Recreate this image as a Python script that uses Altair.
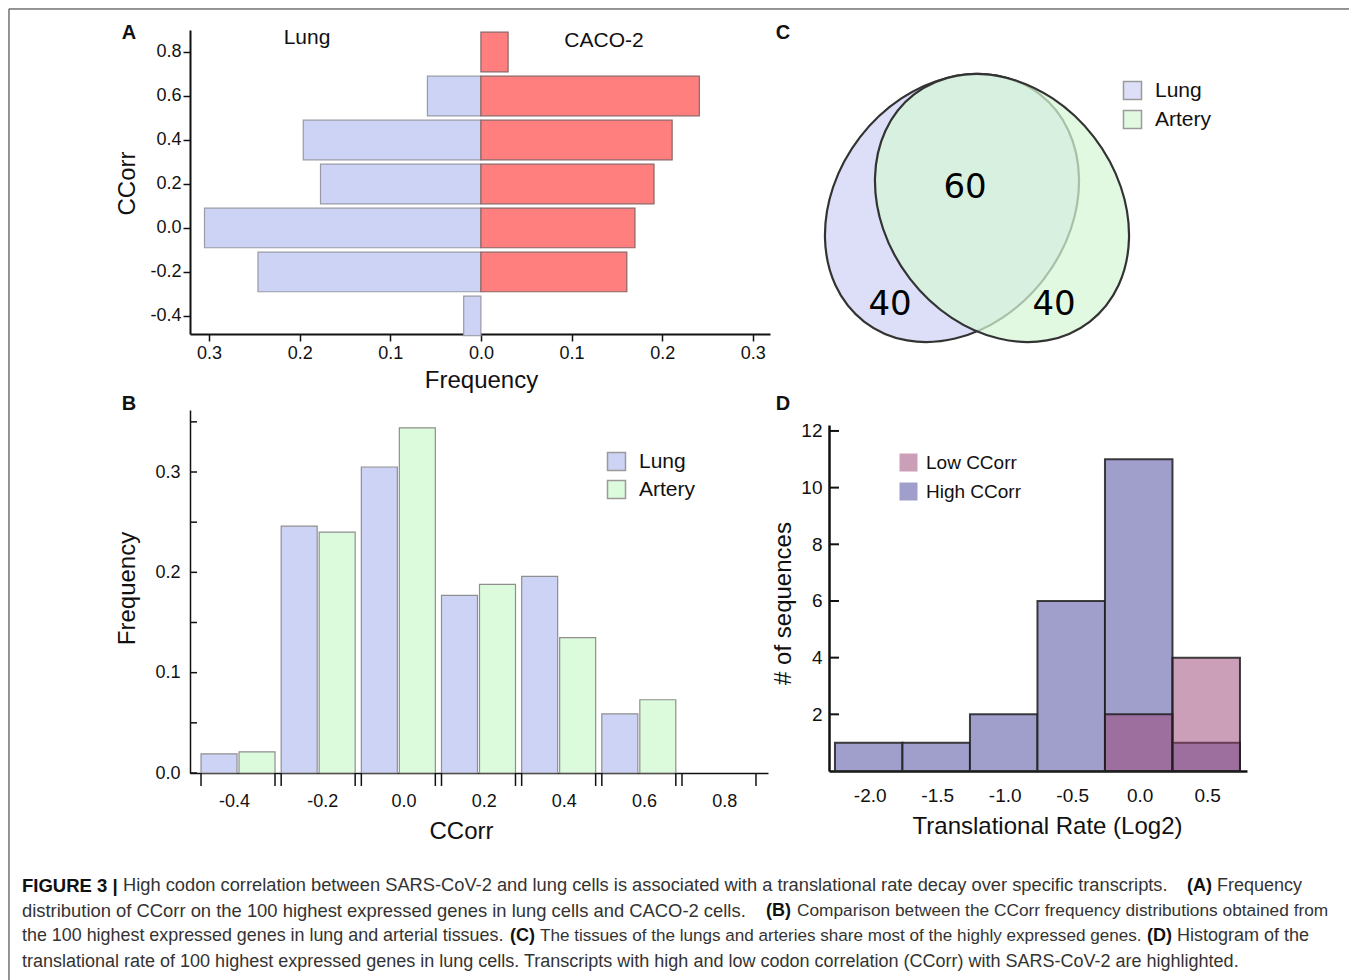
import altair as alt
import pandas as pd

# ---------------- data ----------------
ccorr_bins = [-0.4, -0.2, 0.0, 0.2, 0.4, 0.6, 0.8]
lung_freq = [0.019, 0.246, 0.305, 0.177, 0.196, 0.059, 0.0]
caco2_freq = [0.0, 0.161, 0.170, 0.191, 0.211, 0.241, 0.030]
artery_freq = [0.021, 0.240, 0.344, 0.188, 0.135, 0.073, 0.0]

freq_ticks_A = [-0.3, -0.2, -0.1, 0.0, 0.1, 0.2, 0.3]
freq_ticks_B = [0.0, 0.05, 0.10, 0.15, 0.20, 0.25, 0.30, 0.35]
freq_labels_B = [0.0, 0.1, 0.2, 0.3]
ccorr_label_pos_B = [-0.41, -0.19, 0.013, 0.213, 0.413, 0.613, 0.813]

venn_sets = ["Lung", "Artery"]
venn_counts = [40, 60, 40]  # lung only, shared, artery only

rate_bins = [-2.0, -1.5, -1.0, -0.5, 0.0, 0.5]
high_counts = [1, 1, 2, 6, 11, 1]
low_counts = [0, 0, 0, 0, 2, 4]
count_ticks = [2, 4, 6, 8, 10, 12]

# (x, y, text, weight, font size)
caption = [
    (22, 886, "FIGURE 3 |", "bold", 18.5),
    (123, 886, "High codon correlation between SARS-CoV-2 and lung cells is associated with a translational rate decay over specific transcripts.", "normal", 18.3),
    (1187, 886, "(A)", "bold", 18),
    (1217, 886, "Frequency", "normal", 18),
    (22, 911, "distribution of CCorr on the 100 highest expressed genes in lung cells and CACO-2 cells.", "normal", 18.4),
    (766, 911, "(B)", "bold", 18),
    (797, 911, "Comparison between the CCorr frequency distributions obtained from", "normal", 17.3),
    (22, 936, "the 100 highest expressed genes in lung and arterial tissues.", "normal", 17.9),
    (510, 936, "(C)", "bold", 18),
    (540, 936, "The tissues of the lungs and arteries share most of the highly expressed genes.", "normal", 17.1),
    (1147, 936, "(D)", "bold", 18),
    (1177, 936, "Histogram of the", "normal", 18),
    (22, 962, "translational rate of 100 highest expressed genes in lung cells. Transcripts with high and low codon correlation (CCorr) with SARS-CoV-2 are highlighted.", "normal", 18),
]

# ---------------- layout helpers ----------------
W, H = 1341, 972
def px(x):
    return x - 8
def py(y):
    return y - 8

FONT = "Liberation Sans"
INK = "#111111"
MINUS = "replace(format(datum.value, '.1f'), '\u2212', '-')"
MINUS_ROUND = "replace(format(round(datum.value * 10) / 10, '.1f'), '\u2212', '-')"


def ax(**kw):
    base = dict(grid=False, labelFont=FONT, labelColor=INK, titleFont=FONT,
                titleColor=INK, titleFontWeight="normal", domainColor=INK,
                tickColor=INK, titleBaseline="middle", titleAlign="center")
    base.update(kw)
    return alt.Axis(**base)


def label(text, x, y, size, weight="normal", align="center", color=INK, font=FONT):
    return alt.Chart(alt.Data(values=[{"t": text}])).mark_text(
        align=align, baseline="middle", fontSize=size, fontWeight=weight,
        font=font, color=color
    ).encode(x=alt.value(px(x)), y=alt.value(py(y)), text="t:N")


layers = []

# ---------------- border ----------------
blank = alt.Chart(alt.Data(values=[{}])).mark_rule(color="#777777", strokeWidth=1.5)
layers.append(blank.encode(x=alt.value(1), y=alt.value(1), y2=alt.value(H)))
layers.append(blank.encode(x=alt.value(1), x2=alt.value(px(1350)), y=alt.value(1)))
layers.append(blank.encode(x=alt.value(px(1350)), y=alt.value(1), y2=alt.value(H)))

# ---------------- Panel A ----------------
dfA = pd.DataFrame({
    "ccorr": ccorr_bins * 2,
    "series": ["Lung"] * len(ccorr_bins) + ["CACO-2"] * len(ccorr_bins),
    "freq": lung_freq + caco2_freq,
})
xA = alt.Scale(domain=[-0.321, 0.319], range=[px(190), px(770)], nice=False, zero=False)
yA = alt.Scale(domain=[-0.482, 0.9], range=[py(334), py(30)], nice=False, zero=False)
baseA = alt.Chart(dfA).transform_filter("datum.freq > 0").transform_calculate(
    xs="datum.series == 'Lung' ? -datum.freq : datum.freq",
    ylo="datum.ccorr - 0.09",
    yhi="datum.ccorr + 0.09",
)
axAx = ax(orient="bottom", offset=py(334) - H, values=freq_ticks_A,
          labelExpr="format(abs(datum.value), '.1f')", tickSize=7, tickWidth=1.5,
          domainWidth=2, labelFontSize=18, labelPadding=3, title="Frequency",
          titleFontSize=24, titleX=px(481), titleY=46)
axAy = ax(orient="left", offset=-px(190), values=ccorr_bins,
          labelExpr=MINUS, tickSize=7, tickWidth=1.5, domainWidth=2,
          labelFontSize=18, labelPadding=2, title="CCorr", titleFontSize=24,
          titleAngle=270, titleX=127 - 190, titleY=py(183))
layers.append(baseA.transform_filter("datum.series == 'Lung'").mark_bar(
    fill="#cdd3f4", stroke="#9a9aa6", strokeWidth=1.2).encode(
    x=alt.X("xs:Q", scale=xA, axis=axAx), x2=alt.datum(0),
    y=alt.Y("ylo:Q", scale=yA, axis=axAy), y2="yhi:Q"))
layers.append(baseA.transform_filter("datum.series == 'CACO-2'").mark_bar(
    fill="#ff7f7f", stroke="#8c6464", strokeWidth=1.2).encode(
    x=alt.X("xs:Q", scale=xA, axis=None), x2=alt.datum(0),
    y=alt.Y("ylo:Q", scale=yA, axis=None), y2="yhi:Q"))
layers.append(label("Lung", 307, 38, 21))
layers.append(label("CACO-2", 604, 41, 21))
layers.append(label("A", 129, 33, 20, "bold"))

# ---------------- Panel B ----------------
dfB = pd.DataFrame({
    "ccorr": ccorr_bins * 2,
    "series": ["Lung"] * len(ccorr_bins) + ["Artery"] * len(ccorr_bins),
    "freq": lung_freq + artery_freq,
})
xB = alt.Scale(domain=[-0.5198, 0.9223], range=[px(190), px(768)], nice=False, zero=False)
yB = alt.Scale(domain=[0, 0.3618], range=[py(773), py(410)], nice=False, zero=False)
axBx = ax(orient="bottom", offset=py(773) - H, values=ccorr_label_pos_B,
          labelExpr=MINUS_ROUND, ticks=False, domainWidth=1.5, labelFontSize=18,
          labelPadding=19, title="CCorr", titleFontSize=24, titleX=px(461), titleY=58)
axBy = ax(orient="left", offset=-px(190), values=freq_labels_B, labelExpr=MINUS,
          ticks=False, domainWidth=1.5, labelFontSize=18, labelPadding=10,
          title="Frequency", titleFontSize=24, titleAngle=270,
          titleX=127 - 190, titleY=py(588))
legB = alt.Legend(orient="none", legendX=px(606), legendY=py(451), title=None,
                  symbolType="square", symbolSize=324, symbolStrokeColor="#9a9a9a",
                  symbolStrokeWidth=1.5, labelFont=FONT, labelFontSize=21,
                  labelColor=INK, labelOffset=12, rowPadding=3, padding=0)
layers.append(alt.Chart(dfB).transform_filter("datum.freq > 0").transform_calculate(
    lo="datum.series == 'Lung' ? datum.ccorr - 0.0923 : datum.ccorr + 0.0025",
    hi="datum.series == 'Lung' ? datum.ccorr - 0.0025 : datum.ccorr + 0.0923",
).mark_bar(stroke="#8f8f8f", strokeWidth=1.2).encode(
    x=alt.X("lo:Q", scale=xB, axis=axBx), x2="hi:Q",
    y=alt.Y("freq:Q", scale=yB, axis=axBy), y2=alt.datum(0),
    color=alt.Color("series:N", scale=alt.Scale(domain=["Lung", "Artery"],
                    range=["#cdd3f4", "#dcfadc"]), legend=legB)))
# edge ticks on x
layers.append(alt.Chart(pd.DataFrame({"ccorr": ccorr_bins})).transform_calculate(
    e1="datum.ccorr - 0.0923", e2="datum.ccorr + 0.0923").transform_fold(
    ["e1", "e2"], as_=["k", "edge"]).mark_rule(color=INK, strokeWidth=1.5).encode(
    x=alt.X("edge:Q", scale=xB, axis=None),
    y=alt.value(py(773)), y2=alt.value(py(786))))
# inward ticks on y
layers.append(alt.Chart(pd.DataFrame({"v": freq_ticks_B})).mark_rule(
    color=INK, strokeWidth=1.5).encode(
    y=alt.Y("v:Q", scale=yB, axis=None),
    x=alt.value(px(190)), x2=alt.value(px(197))))
layers.append(label("B", 129, 404, 20, "bold"))

# ---------------- Panel C (Venn) ----------------
ELLIPSE = "M -1 0 A 1 0.8085 0 1 0 1 0 A 1 0.8085 0 1 0 -1 0 Z"
dfC = pd.DataFrame({"set": venn_sets})
colC = alt.Scale(domain=venn_sets, range=["#dcdff7", "rgba(214,246,214,0.72)"])
legC = alt.Legend(orient="none", legendX=px(1122), legendY=py(80), title=None,
                  symbolType="square", symbolSize=324, symbolStrokeColor="#9a9a9a",
                  symbolStrokeWidth=1.5, labelFont=FONT, labelFontSize=21,
                  labelColor=INK, labelOffset=12, rowPadding=4, padding=0)
layers.append(alt.Chart(dfC).transform_filter("datum.set == 'Lung'").mark_point(
    filled=True, shape=ELLIPSE, size=82484, angle=307.6, stroke="#333333",
    strokeWidth=2.2, opacity=1).encode(
    x=alt.value(px(952)), y=alt.value(py(208)),
    color=alt.Color("set:N", scale=colC, legend=legC)))
layers.append(alt.Chart(dfC).transform_filter("datum.set == 'Artery'").mark_point(
    filled=True, shape=ELLIPSE, size=82484, angle=52.4, stroke="#333333",
    strokeWidth=2.2, opacity=1).encode(
    x=alt.value(px(1002)), y=alt.value(py(208)),
    color=alt.Color("set:N", scale=colC, legend=None)))
layers.append(label(str(venn_counts[0]), 890, 305, 34, font="DejaVu Sans", color="#000000"))
layers.append(label(str(venn_counts[1]), 965, 188, 34, font="DejaVu Sans", color="#000000"))
layers.append(label(str(venn_counts[2]), 1054, 305, 34, font="DejaVu Sans", color="#000000"))
layers.append(label("C", 783, 33, 20, "bold"))

# ---------------- Panel D ----------------
dfD = pd.DataFrame({
    "rate": rate_bins * 2,
    "group": ["High CCorr"] * len(rate_bins) + ["Low CCorr"] * len(rate_bins),
    "count": high_counts + low_counts,
})
xD = alt.Scale(domain=[-2.294, 0.802], range=[px(829), px(1247)], nice=False, zero=False)
yD = alt.Scale(domain=[0, 12.21], range=[py(771), py(425)], nice=False, zero=False)
axDx = ax(orient="bottom", offset=py(771) - H, values=rate_bins, labelExpr=MINUS,
          ticks=False, domainWidth=2.5, labelFontSize=19, labelPadding=15,
          labelOffset=1,
          title="Translational Rate (Log2)", titleFontSize=24, titleX=px(1047), titleY=55)
axDy = ax(orient="left", offset=-px(829), values=count_ticks, ticks=False,
          domainWidth=2.5, labelFontSize=19, labelPadding=7,
          title="# of sequences", titleFontSize=24, titleAngle=270,
          titleX=783 - 829, titleY=py(603))
legD = alt.Legend(orient="none", legendX=px(899), legendY=py(453), title=None,
                  symbolType="square", symbolSize=324, symbolStrokeWidth=0,
                  labelFont=FONT, labelFontSize=19, labelColor=INK, labelOffset=8,
                  rowPadding=9, padding=0)
layers.append(alt.Chart(dfD).transform_filter("datum.count > 0").transform_calculate(
    lo="datum.rate - 0.25", hi="datum.rate + 0.25").mark_bar(
    stroke="rgba(30,30,30,0.85)", strokeWidth=2).encode(
    x=alt.X("lo:Q", scale=xD, axis=axDx), x2="hi:Q",
    y=alt.Y("count:Q", scale=yD, axis=axDy), y2=alt.datum(0),
    color=alt.Color("group:N", scale=alt.Scale(domain=["Low CCorr", "High CCorr"],
                    range=["rgba(153,63,113,0.5)", "#a09fcc"]), legend=legD)))
layers.append(alt.Chart(pd.DataFrame({"v": count_ticks})).mark_rule(
    color=INK, strokeWidth=2).encode(
    y=alt.Y("v:Q", scale=yD, axis=None),
    x=alt.value(px(829)), x2=alt.value(px(839))))
layers.append(label("D", 783, 404, 20, "bold"))

# ---------------- caption ----------------
for (cx, cy, txt, wt, fs) in caption:
    layers.append(label(txt, cx, cy, fs, wt, align="left",
                        color="#111111" if wt == "bold" else "#333333"))

chart = alt.layer(*layers).resolve_scale(
    x="independent", y="independent", color="independent"
).properties(
    width=W, height=H, padding=0, autosize=alt.AutoSizeParams(type="none")
).configure_view(stroke=None).configure(font=FONT)

chart.save("out.html", embed_options={"renderer": "svg", "actions": False})
